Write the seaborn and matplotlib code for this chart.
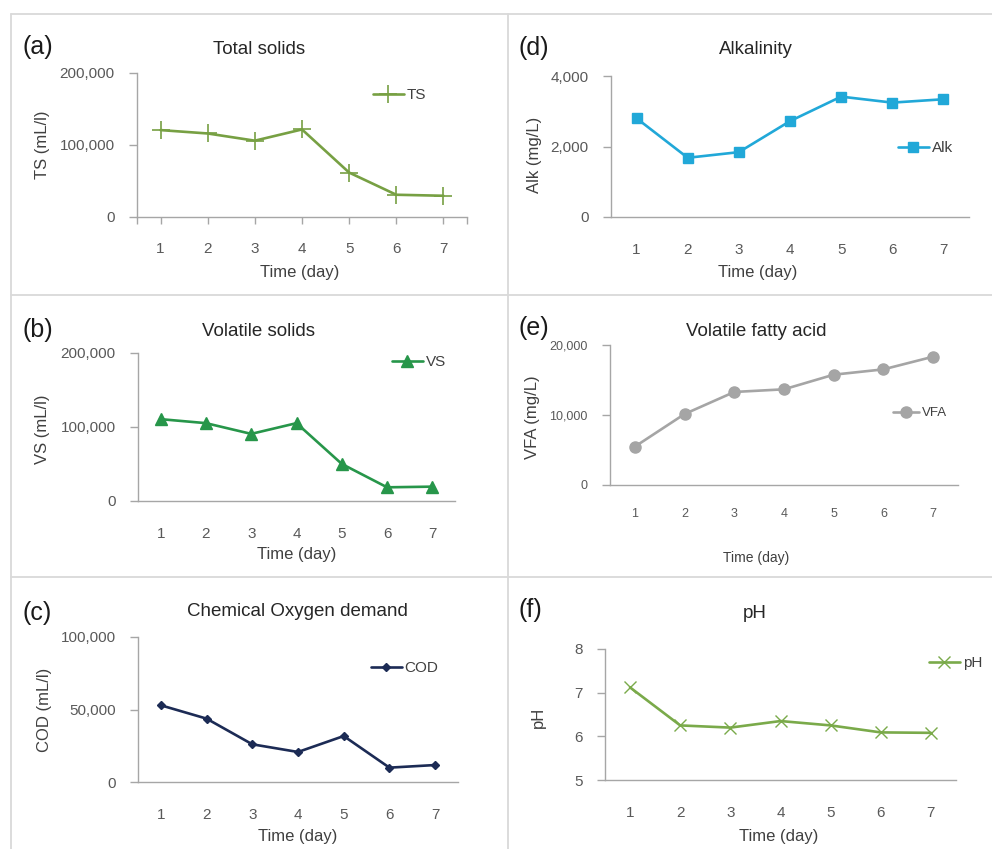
import matplotlib
matplotlib.use("Agg")
import matplotlib.pyplot as plt
import seaborn as sns
from matplotlib.lines import Line2D
from matplotlib.ticker import StrMethodFormatter

# data
days = [1, 2, 3, 4, 5, 6, 7]
ts = [120700, 116000, 106000, 121600, 61700, 30900, 29500]
vs = [110600, 105200, 90700, 105200, 50100, 18500, 19400]
cod = [52900, 43700, 26000, 20700, 31700, 9900, 11700]
alk = [2800, 1680, 1840, 2720, 3415, 3245, 3340]
vfa = [5480, 10140, 13290, 13670, 15760, 16520, 18330]
ph = [7.12, 6.25, 6.20, 6.35, 6.25, 6.09, 6.08]

sns.set_style("white")
plt.rcParams['font.family'] = ['Liberation Sans', 'DejaVu Sans']

W, H = 992, 849
fig = plt.figure(figsize=(W / 100, H / 100), dpi=100)


def fx(x):
    return x / W


def fy(y):
    return 1 - y / H


spine_col = "#a6a6a6"
tick_col = "#595959"
text_col = "#404040"

panels = [
    dict(letter="(a)", title="Total solids", ylabel="TS (mL/l)", label="TS", vals=ts,
         color="#77a043", marker="+", ms=13, mew=1.2, rect=(137, 73, 467, 217),
         ylim=(0, 200000), yticks=[0, 100000, 200000], fmt="{x:,.0f}",
         title_xy=(259, 49), letter_xy=(22, 47), ylab_xy=(42, 145), xlab_xy=(300, 273),
         leg_xy=(373, 95), xticks_on=True, xpad=13, small=False),
    dict(letter="(b)", title="Volatile solids", ylabel="VS (mL/l)", label="VS", vals=vs,
         color="#27964a", marker="^", ms=8, mew=1, rect=(138, 353, 455, 501),
         ylim=(0, 200000), yticks=[0, 100000, 200000], fmt="{x:,.0f}",
         title_xy=(258, 332), letter_xy=(22, 330), ylab_xy=(42, 429), xlab_xy=(297, 555),
         leg_xy=(392, 362), xticks_on=False, xpad=19, small=False),
    dict(letter="(c)", title="Chemical Oxygen demand", ylabel="COD (mL/l)", label="COD", vals=cod,
         color="#1c2b55", marker="D", ms=4.5, mew=1, rect=(138, 637, 458, 782),
         ylim=(0, 100000), yticks=[0, 50000, 100000], fmt="{x:,.0f}",
         title_xy=(297, 612), letter_xy=(22, 613), ylab_xy=(45, 710), xlab_xy=(298, 837),
         leg_xy=(371, 668), xticks_on=False, xpad=18.5, small=False),
    dict(letter="(d)", title="Alkalinity", ylabel="Alk (mg/L)", label="Alk", vals=alk,
         color="#21a8d8", marker="s", ms=6.5, mew=1, rect=(611, 76, 969, 217),
         ylim=(0, 4000), yticks=[0, 2000, 4000], fmt="{x:,.0f}",
         title_xy=(756, 50), letter_xy=(519, 48), ylab_xy=(534, 155), xlab_xy=(758, 273),
         leg_xy=(898, 148), xticks_on=False, xpad=18.5, small=False),
    dict(letter="(e)", title="Volatile fatty acid", ylabel="VFA (mg/L)", label="VFA", vals=vfa,
         color="#a5a5a5", marker="o", ms=8, mew=1, rect=(610, 345, 958, 485),
         ylim=(0, 20000), yticks=[0, 10000, 20000], fmt="{x:,.0f}",
         title_xy=(756, 332), letter_xy=(519, 328), ylab_xy=(533, 417), xlab_xy=(756, 558),
         leg_xy=(893, 413), xticks_on=False, xpad=16.5, small=True),
    dict(letter="(f)", title="pH", ylabel="pH", label="pH", vals=ph,
         color="#7aaa4a", marker="x", ms=9, mew=1, rect=(605, 649, 956, 780),
         ylim=(5, 8), yticks=[5, 6, 7, 8], fmt="{x:.0f}",
         title_xy=(755, 613), letter_xy=(519, 610), ylab_xy=(538, 717), xlab_xy=(779, 837),
         leg_xy=(929, 663), xticks_on=False, xpad=18.5, small=False),
]

for p in panels:
    x0, top, x1, bottom = p["rect"]
    ax = fig.add_axes([fx(x0), fy(bottom), (x1 - x0) / W, (bottom - top) / H])
    sns.lineplot(x=days, y=p["vals"], ax=ax, color=p["color"], linewidth=1.9,
                 marker=p["marker"], markersize=p["ms"], markeredgewidth=p["mew"],
                 markeredgecolor=p["color"], markerfacecolor=p["color"], label=p["label"])

    sns.despine(ax=ax)
    for side in ["left", "bottom"]:
        ax.spines[side].set_color(spine_col)
        ax.spines[side].set_linewidth(1.0)

    ax.set_xlim(0.5, 7.5)
    ax.set_ylim(*p["ylim"])
    ax.set_xticks(days)
    ax.set_yticks(p["yticks"])
    ax.yaxis.set_major_formatter(StrMethodFormatter(p["fmt"]))

    tsize = 9 if p["small"] else 11
    ax.tick_params(axis="y", left=True, direction="out", length=6, width=1,
                   color=spine_col, pad=10, labelsize=tsize, labelcolor=tick_col)
    if p["xticks_on"]:
        ax.set_xticks([0.5, 7.5], minor=True)
        ax.tick_params(axis="x", which="both", bottom=True, direction="out", length=5,
                       width=1, color=spine_col)
        ax.tick_params(axis="x", pad=p["xpad"], labelsize=tsize, labelcolor=tick_col)
    else:
        ax.tick_params(axis="x", bottom=False, length=0, pad=p["xpad"],
                       labelsize=tsize, labelcolor=tick_col)

    lsize = 10 if p["small"] else 12
    ax.set_xlabel("Time (day)", fontsize=lsize, color=text_col, va="center")
    ax.xaxis.set_label_coords(fx(p["xlab_xy"][0]), fy(p["xlab_xy"][1]), transform=fig.transFigure)
    ax.set_ylabel(p["ylabel"], fontsize=12, color=text_col, va="center")
    ax.yaxis.set_label_coords(fx(p["ylab_xy"][0]), fy(p["ylab_xy"][1]), transform=fig.transFigure)

    fig.text(fx(p["title_xy"][0]), fy(p["title_xy"][1]), p["title"], ha="center", va="center",
             fontsize=13.5, color="#262626")
    fig.text(fx(p["letter_xy"][0]), fy(p["letter_xy"][1]), p["letter"], ha="left", va="center",
             fontsize=18, color="#1a1a1a")

    leg_size = 9.5 if p["small"] else 11
    ax.legend(loc="center left", bbox_to_anchor=(fx(p["leg_xy"][0]), fy(p["leg_xy"][1])),
              bbox_transform=fig.transFigure, frameon=False, fontsize=leg_size,
              handlelength=2.0, handletextpad=0.2, borderpad=0, borderaxespad=0,
              labelcolor=text_col)

# panel frame lines
frame_col = "#d9d9d9"
for yy in [14, 295, 577]:
    fig.add_artist(Line2D([fx(11), 1], [fy(yy), fy(yy)], color=frame_col, lw=1.3))
for xx in [11, 508]:
    fig.add_artist(Line2D([fx(xx), fx(xx)], [fy(14), 0], color=frame_col, lw=1.3))

fig.savefig("out.png", dpi=100, facecolor="white")
